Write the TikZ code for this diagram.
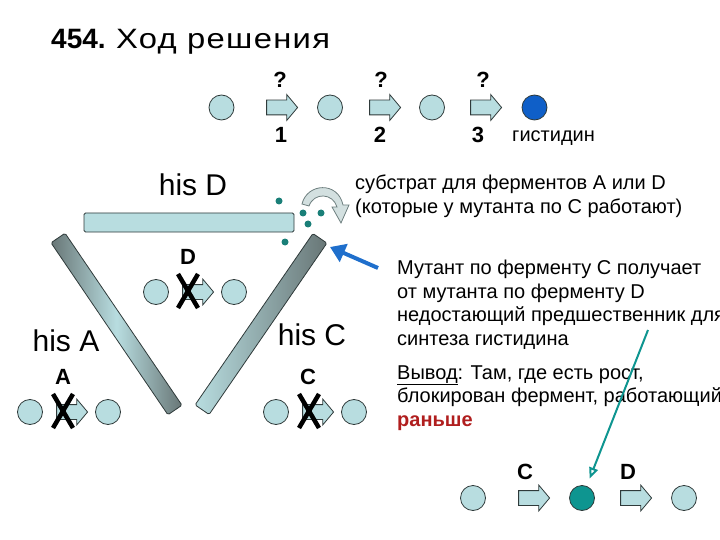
\documentclass[tikz,border=0pt]{standalone}
\usepackage{fontspec}
\setmainfont{Liberation Sans}
\usetikzlibrary{shapes.arrows,arrows.meta}
\definecolor{cyanfill}{HTML}{B8DDE0}
\definecolor{edgec}{HTML}{2F3A3A}
\definecolor{bardark}{HTML}{687676}
\definecolor{hisblue}{HTML}{0F5FC8}
\definecolor{tealc}{HTML}{0E9590}
\definecolor{dotc}{HTML}{1A7F78}
\definecolor{arrblue}{HTML}{1F6FCC}
\definecolor{darkred}{HTML}{B01E1E}
\definecolor{curvefill}{HTML}{D3E0E0}
\definecolor{curveedge}{HTML}{6F8080}
\begin{document}
\begin{tikzpicture}[x=1pt,y=-1pt,
  mol/.style={circle, draw=edgec, line width=0.8pt, fill=cyanfill, minimum size=25pt, inner sep=0pt},
  barrow/.style={single arrow, draw=edgec, line width=0.8pt, fill=cyanfill, minimum height=31pt,
     inner xsep=0pt, inner ysep=7pt, single arrow head extend=5.5pt, single arrow tip angle=100,
     single arrow head indent=0pt},
  slantbar/.style={rectangle, draw=edgec, line width=0.8pt, minimum width=208pt, minimum height=17pt,
     rounded corners=1.5pt, inner sep=0pt},
  dotn/.style={circle, fill=dotc, minimum size=7pt, inner sep=0pt},
  hislabel/.style={font=\fontsize{30}{36}\selectfont},
  enzlabel/.style={font=\fontsize{22}{26}\selectfont\bfseries},
  para/.style={font=\fontsize{20}{23.5}\selectfont, align=left, anchor=base west, inner sep=0pt},
  xmark/.pic={\draw[line width=4.5pt, black] (-10,-17) -- (10,17) (10,-17) -- (-10,17);}
]
\useasboundingbox (0,0) rectangle (720,540);
% title
\node[anchor=base west, inner sep=0pt, font=\fontsize{28}{34}\selectfont] (title) at (51,48.5)
  {\textbf{454.} \scalebox{1.17}[1]{\addfontfeatures{LetterSpace=4}Ход решения}};
% top pathway
\node[mol] (m1) at (221.5,107.5) {};
\node[barrow] (a1) at (279,107.5) {};
\node[mol] (m2) at (330,107.5) {};
\node[barrow] (a2) at (382,107.5) {};
\node[mol] (m3) at (432,107.5) {};
\node[barrow] (a3) at (483,107.5) {};
\node[mol, fill=hisblue] (hisn) at (534.5,107.5) {};
\node[enzlabel] (q1) at (280,80) {?};
\node[enzlabel] (q2) at (381,80) {?};
\node[enzlabel] (q3) at (483,80) {?};
\node[enzlabel, anchor=base] (n1) at (281,143) {1};
\node[enzlabel, anchor=base] (n2) at (380,143) {2};
\node[enzlabel, anchor=base] (n3) at (478,143) {3};
\node[anchor=base west, inner sep=0pt, font=\fontsize{20}{24}\selectfont] (hist) at (512,142) {гистидин};
% bars
\node[rectangle, draw=edgec, line width=0.8pt, fill=cyanfill, rounded corners=1.5pt,
      minimum width=210pt, minimum height=19pt, inner sep=0pt] (barD) at (189,222.5) {};
\node[slantbar, rotate=-55.8, left color=bardark, right color=bardark, middle color=cyanfill] (barA) at (116.5,324) {};
\node[slantbar, rotate=55.5, left color=cyanfill, right color=bardark] (barC) at (261,324) {};
\node[hislabel] (hisD) at (193,185) {his D};
\node[hislabel] (hisA) at (66,341) {his A};
\node[hislabel] (hisC) at (312,335) {his C};
% dots
\node[dotn] (d1) at (279,201) {};
\node[dotn] (d2) at (303,213) {};
\node[dotn] (d3) at (321,213) {};
\node[dotn] (d4) at (308,224) {};
\node[dotn] (d5) at (285,242) {};
% curved arrow
\draw[fill=curvefill, draw=curveedge, line width=0.8pt]
  (302,204) .. controls (307,183) and (338,181) .. (343,205)
  -- (349,205) -- (341,223) -- (332,207) -- (337,207)
  .. controls (333,193) and (314,192) .. (309,206) -- cycle;
% D pathway
\node[enzlabel] (lD) at (188,257) {D};
\node[mol] (dm1) at (156,292) {};
\node[barrow] (da) at (195,292) {};
\node[mol] (dm2) at (234,292) {};
\pic at (188,291) {xmark};
% A pathway
\node[enzlabel] (lA) at (63,377) {A};
\node[mol] (am1) at (30,412) {};
\node[barrow] (aa) at (69,412) {};
\node[mol] (am2) at (108,412) {};
\pic at (63,411) {xmark};
% C pathway
\node[enzlabel] (lC) at (308,377) {C};
\node[mol] (cm1) at (276,412) {};
\node[barrow] (ca) at (315,412) {};
\node[mol] (cm2) at (354,412) {};
\pic at (309,411) {xmark};
% blue arrow
\coordinate (bluetail) at (378,268);
\coordinate (bluetip) at (330,247);
\draw[arrblue, line width=4pt, -{Triangle[length=15pt,width=19pt]}] (bluetail) -- (bluetip);
% texts (anchor = baseline of the last line)
\node[para] (sub) at (355,213.5) {субстрат для ферментов A или D\\(которые у мутанта по С работают)};
\node[para] (mut) at (397,345) {Мутант по ферменту С получает\\от мутанта по ферменту D\\недостающий предшественник для\\синтеза гистидина};
\node[para] (concl) at (397,426) {\underline{Вывод}: Там, где есть рост,\\блокирован фермент, работающий\\\textcolor{darkred}{\bfseries раньше}};
% bottom pathway
\node[enzlabel] (bC) at (525,472) {C};
\node[enzlabel] (bD) at (628,472) {D};
\node[mol] (bm1) at (473,498) {};
\node[barrow] (ba1) at (531,498) {};
\node[mol, fill=tealc] (bt) at (582,498) {};
\node[barrow] (ba2) at (633,498) {};
\node[mol] (bm2) at (684,498) {};
% teal arrow
\coordinate (tealstart) at (648,330);
\draw[tealc, line width=2pt, -{Triangle[open, length=11pt, width=9pt]}, shorten >=8pt] (tealstart) -- (bt);
\end{tikzpicture}
\end{document}
